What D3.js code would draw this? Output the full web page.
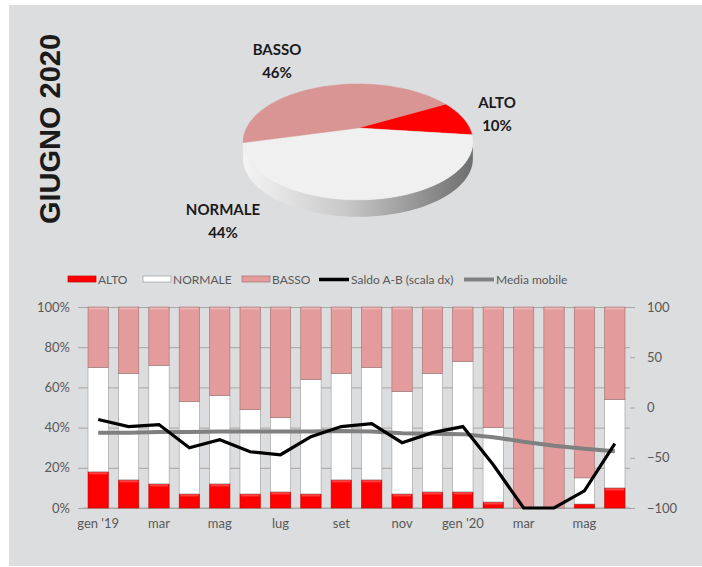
<!DOCTYPE html>
<html>
<head>
<meta charset="utf-8">
<script src="https://cdn.jsdelivr.net/npm/d3@7"></script>
<style>
  body { margin: 0; background: #fff; }
  svg { display: block; font-family: Lato, "Open Sans", sans-serif; }
</style>
</head>
<body>
<div id="chart"></div>
<script>
// data
var months = ["gen '19","feb","mar","apr","mag","giu","lug","ago","set","ott","nov","dic","gen '20","feb","mar","apr","mag","giu"];
var alto    = [18,14,12, 7,12, 7, 8, 7,14,14, 7, 8, 8, 3,  0,  0, 2,10];
var normale = [52,53,59,46,44,42,37,57,53,56,51,59,65,37,  0,  0,13,44];
var basso   = [30,33,29,47,44,51,55,36,33,30,42,33,27,60,100,100,85,46];
var saldo   = [-12,-19,-17,-40,-32,-44,-47,-29,-19,-16,-35,-25,-19,-57,-100,-100,-83,-36];
var media   = [-25,-25,-24.5,-24.5,-24,-24,-24,-24,-23.5,-24,-25.5,-26,-26.5,-29.5,-34,-38,-41,-43.5];
var pieLabels = ["ALTO","NORMALE","BASSO"];
var pieValues = [10,44,46];

var W = 702, H = 567;
var svg = d3.select("#chart").append("svg").attr("width", W).attr("height", H);

// panel
svg.append("rect").attr("x", 9).attr("y", 5).attr("width", W - 9).attr("height", 561).attr("fill", "#dcdddf");

// title
svg.append("text")
    .attr("transform", "translate(60,129) rotate(-90)")
    .attr("text-anchor", "middle")
    .style("font-family", "'Liberation Sans', Arial, sans-serif")
    .style("font-weight", "bold")
    .style("font-size", "29px")
    .attr("fill", "#1a1a1a")
    .text("GIUGNO 2020");

// ---------- pie (pseudo 3D) ----------
var pcx = 358, pcy = 128, A = 111.5, B = 54.6, e = 0.24, depth = 17;
var pieColors = { "ALTO": "#ff0000", "NORMALE": "#f0f0f0", "BASSO": "#d99594" };

function proj(phi, dy) {
    var u = Math.sin(phi), v = Math.cos(phi), w = 1 + e * v;
    return [pcx + A * u / w, pcy - B * v / w + (dy || 0)];
}

var defs = svg.append("defs");
var sideGrad = defs.append("linearGradient").attr("id", "sideGrad")
    .attr("x1", "0%").attr("x2", "100%").attr("y1", "0%").attr("y2", "0%");
sideGrad.append("stop").attr("offset", "0%").attr("stop-color", "#f4f4f4");
sideGrad.append("stop").attr("offset", "45%").attr("stop-color", "#c8c8c8");
sideGrad.append("stop").attr("offset", "100%").attr("stop-color", "#6e6e6e");

// visible side between silhouette angles
var sil = Math.acos(-e);
var sidePts = [];
var steps = 80;
for (var i = 0; i <= steps; i++) {
    var p = sil + (2 * Math.PI - 2 * sil) * i / steps;
    sidePts.push(proj(p, 0));
}
for (var i = steps; i >= 0; i--) {
    var p = sil + (2 * Math.PI - 2 * sil) * i / steps;
    sidePts.push(proj(p, depth));
}
svg.append("path")
    .attr("d", "M" + sidePts.map(function(d) { return d.join(","); }).join("L") + "Z")
    .attr("fill", "url(#sideGrad)");

var pie = d3.pie().sort(null).startAngle(61 * Math.PI / 180).endAngle(61 * Math.PI / 180 + 2 * Math.PI);
var arcs = pie(pieValues);
arcs.forEach(function(a, k) {
    var pts = [[pcx, pcy]];
    var n = 60;
    for (var j = 0; j <= n; j++) {
        pts.push(proj(a.startAngle + (a.endAngle - a.startAngle) * j / n));
    }
    svg.append("path")
        .attr("d", "M" + pts.map(function(d) { return d.join(","); }).join("L") + "Z")
        .attr("fill", pieColors[pieLabels[k]])
        .attr("stroke", pieColors[pieLabels[k]])
        .attr("stroke-width", 0.5);
});

// pie labels
var pieLabelPos = { "ALTO": [497, 108], "NORMALE": [223, 215], "BASSO": [277, 55] };
pieLabels.forEach(function(lab, k) {
    var t = svg.append("text")
        .attr("text-anchor", "middle")
        .style("font-weight", "bold")
        .style("font-size", "15px")
        .attr("fill", "#1a1a1a");
    t.append("tspan").attr("x", pieLabelPos[lab][0]).attr("y", pieLabelPos[lab][1]).text(lab);
    t.append("tspan").attr("x", pieLabelPos[lab][0]).attr("y", pieLabelPos[lab][1] + 23).text(pieValues[k] + "%");
});

// ---------- bar chart ----------
var plotLeft = 83, plotRight = 630, plotTop = 307, plotBottom = 508;
var x = d3.scaleBand().domain(d3.range(months.length)).range([plotLeft, plotRight])
    .paddingInner(0.33).paddingOuter(0.165);
var y = d3.scaleLinear().domain([0, 100]).range([plotBottom, plotTop]);
var y2 = d3.scaleLinear().domain([-100, 100]).range([plotBottom, plotTop]);

var g = svg.append("g");

// left axis with gridlines
var ya = g.append("g").attr("transform", "translate(" + plotRight + ",0)")
    .call(d3.axisLeft(y).tickValues([0,20,40,60,80,100]).tickSize(plotRight - plotLeft + 5).tickPadding(8)
        .tickFormat(function(d) { return d + "%"; }));
ya.select(".domain").remove();
ya.selectAll("line").attr("stroke", "#a6a6a6");
ya.selectAll("text").attr("fill", "#595959").style("font-size", "13px").style("font-family", "Lato, sans-serif");

// right axis
var ya2 = g.append("g").attr("transform", "translate(" + plotRight + ",0)")
    .call(d3.axisRight(y2).tickValues([-100,-50,0,50,100]).tickSize(5).tickPadding(12));
ya2.select(".domain").remove();
ya2.selectAll("line").attr("stroke", "#a6a6a6");
ya2.selectAll("text").attr("fill", "#595959").style("font-size", "13px").style("font-family", "Lato, sans-serif");

// bottom axis line
g.append("line").attr("x1", plotLeft).attr("x2", plotRight).attr("y1", plotBottom).attr("y2", plotBottom)
    .attr("stroke", "#a6a6a6");

// x labels
var xa = g.append("g").attr("transform", "translate(0," + plotBottom + ")")
    .call(d3.axisBottom(x).tickSize(0).tickPadding(11)
        .tickValues(d3.range(0, months.length, 2))
        .tickFormat(function(i) { return months[i]; }));
xa.select(".domain").remove();
xa.selectAll("text").attr("fill", "#595959").style("font-size", "13px").style("font-family", "Lato, sans-serif");

// stacked bars
var rows = months.map(function(m, i) { return { i: i, ALTO: alto[i], NORMALE: normale[i], BASSO: basso[i] }; });
var stack = d3.stack().keys(["ALTO", "NORMALE", "BASSO"])(rows);
var barColors = { "ALTO": "#ff0000", "NORMALE": "#ffffff", "BASSO": "#e39b9c" };
var barStroke = { "ALTO": "#c00000", "NORMALE": "#9a9a9a", "BASSO": "#a07070" };

stack.forEach(function(layer) {
    var key = layer.key;
    g.append("g").selectAll("rect").data(layer.filter(function(d) { return d[1] - d[0] > 0; }))
        .enter().append("rect")
        .attr("x", function(d) { return x(d.data.i); })
        .attr("y", function(d) { return y(d[1]); })
        .attr("width", x.bandwidth())
        .attr("height", function(d) { return y(d[0]) - y(d[1]); })
        .attr("fill", barColors[key])
        .attr("stroke", barStroke[key])
        .attr("stroke-width", 0.6);
    // bevel highlight
    if (key !== "NORMALE") {
        g.append("g").selectAll("rect").data(layer.filter(function(d) { return d[1] - d[0] > 2; }))
            .enter().append("rect")
            .attr("x", function(d) { return x(d.data.i) + 1; })
            .attr("y", function(d) { return y(d[1]) + 0.5; })
            .attr("width", x.bandwidth() - 2)
            .attr("height", 2)
            .attr("fill", "#ffffff")
            .attr("opacity", 0.25);
    }
});

// lines
var line = d3.line()
    .x(function(d, i) { return x(i) + x.bandwidth() / 2; })
    .y(function(d) { return y2(d); });

g.append("path").datum(media).attr("d", line)
    .attr("fill", "none").attr("stroke", "#808080").attr("stroke-width", 4);
g.append("path").datum(saldo).attr("d", line)
    .attr("fill", "none").attr("stroke", "#000000").attr("stroke-width", 3.2)
    .attr("stroke-linejoin", "miter");

// legend
var legend = [
    { name: "ALTO", type: "rect", color: "#ff0000", stroke: "#c00000", x: 68 },
    { name: "NORMALE", type: "rect", color: "#ffffff", stroke: "#9a9a9a", x: 143 },
    { name: "BASSO", type: "rect", color: "#e39b9c", stroke: "#a07070", x: 242 },
    { name: "Saldo A-B (scala dx)", type: "line", color: "#000000", x: 319 },
    { name: "Media mobile", type: "line", color: "#808080", x: 464 }
];
var lg = svg.append("g");
legend.forEach(function(l) {
    if (l.type === "rect") {
        lg.append("rect").attr("x", l.x).attr("y", 276).attr("width", 28).attr("height", 6)
            .attr("fill", l.color).attr("stroke", l.stroke).attr("stroke-width", 0.7);
    } else {
        lg.append("line").attr("x1", l.x).attr("x2", l.x + 30).attr("y1", 279.5).attr("y2", 279.5)
            .attr("stroke", l.color).attr("stroke-width", l.name === "Media mobile" ? 4 : 3.5);
    }
    lg.append("text").attr("x", l.x + (l.type === "rect" ? 30 : 32)).attr("y", 284)
        .attr("fill", "#595959").style("font-size", "12px").text(l.name);
});
</script>
</body>
</html>
